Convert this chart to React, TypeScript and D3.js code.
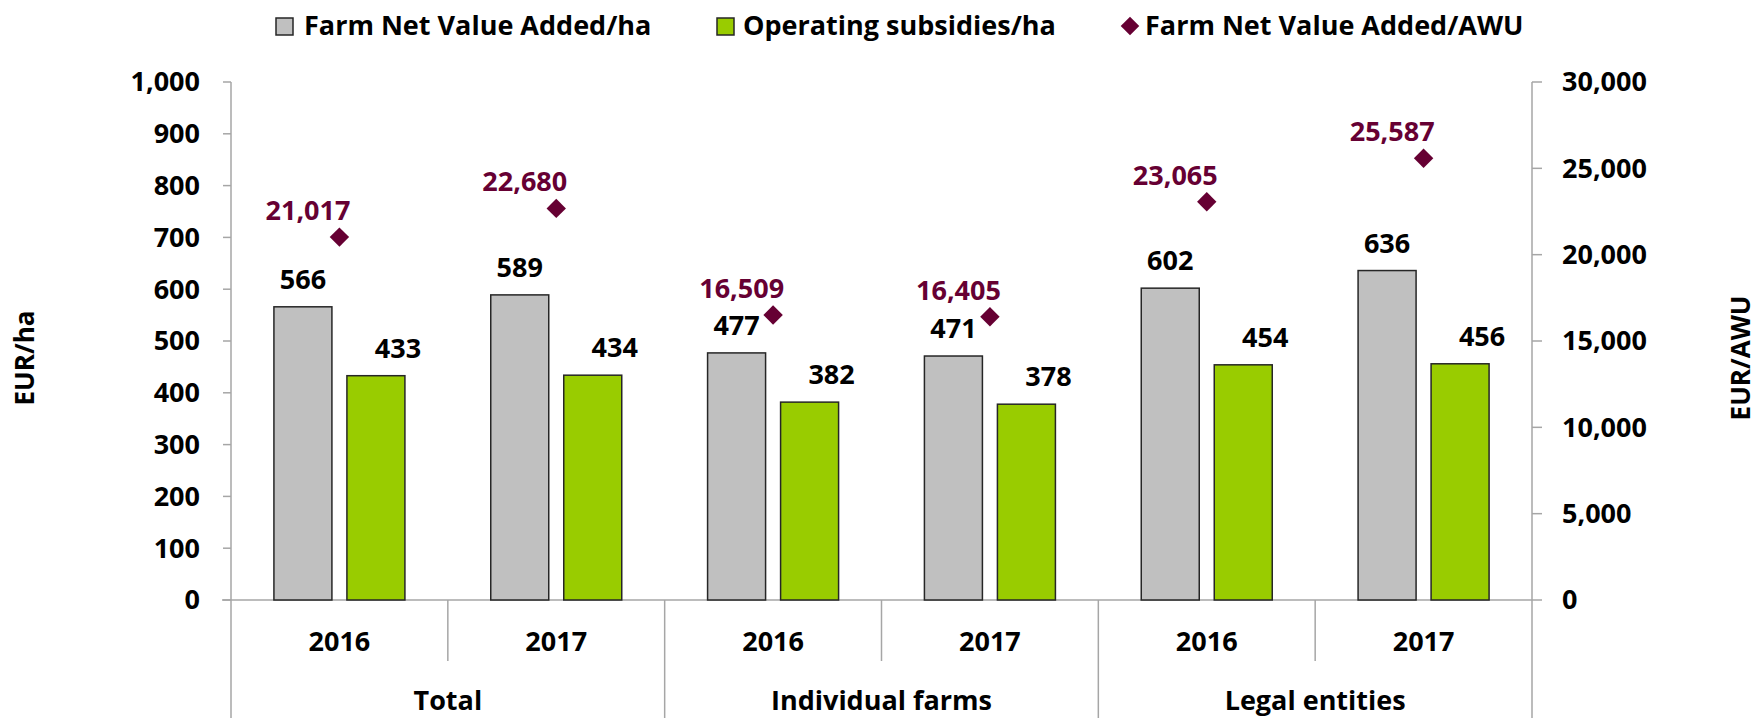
import React, { useEffect, useRef } from "react";
import * as d3 from "d3";

// chart values
const groups = ["Total", "Individual farms", "Legal entities"];
const years = ["2016", "2017"];
const fnvaPerHa = [566, 589, 477, 471, 602, 636];
const subsidiesPerHa = [433, 434, 382, 378, 454, 456];
const fnvaPerAwu = [21017, 22680, 16509, 16405, 23065, 25587];
const leftTicks = [0, 100, 200, 300, 400, 500, 600, 700, 800, 900, 1000];
const rightTicks = [0, 5000, 10000, 15000, 20000, 25000, 30000];
const legendLabels = ["Farm Net Value Added/ha", "Operating subsidies/ha", "Farm Net Value Added/AWU"];

const W = 1760;
const H = 718;
const FONT = "'Open Sans', 'DejaVu Sans', sans-serif";
const GREY = "#c0c0c0";
const GREEN = "#99cc00";
const MAROON = "#660033";
const AXIS = "#a6a6a6";

const App = () => {
  const svgRef = useRef<SVGSVGElement>(null);

  useEffect(() => {
    const svg = d3.select(svgRef.current);
    svg.selectAll("*").remove();

    const margin = { top: 82, right: 228, bottom: 118, left: 231 };
    const cats = groups.flatMap((g) => years.map((y) => `${g}|${y}`));

    const x = d3.scaleBand().domain(cats).range([margin.left, W - margin.right]);
    const y = d3.scaleLinear().domain([0, 1000]).range([H - margin.bottom, margin.top]);
    const y2 = d3.scaleLinear().domain([0, 30000]).range([H - margin.bottom, margin.top]);
    const fmt = d3.format(",");
    const base = y(0);
    const barW = 58;
    const gap = 15;

    // left axis
    const left = svg.append("g").attr("transform", `translate(${margin.left},0)`);
    left.append("line").attr("y1", y(1000)).attr("y2", base).attr("stroke", AXIS).attr("stroke-width", 1.5);
    leftTicks.forEach((t) => {
      left.append("line").attr("x1", -8).attr("x2", 0).attr("y1", y(t)).attr("y2", y(t))
        .attr("stroke", AXIS).attr("stroke-width", 1.5);
      left.append("text").attr("x", -31).attr("y", y(t)).attr("dy", "0.35em")
        .attr("text-anchor", "end").text(fmt(t));
    });

    // right axis
    const rx = W - margin.right;
    const right = svg.append("g").attr("transform", `translate(${rx},0)`);
    right.append("line").attr("y1", y2(30000)).attr("y2", H).attr("stroke", AXIS).attr("stroke-width", 1.5);
    rightTicks.forEach((t) => {
      right.append("line").attr("x1", 0).attr("x2", 10).attr("y1", y2(t)).attr("y2", y2(t))
        .attr("stroke", AXIS).attr("stroke-width", 1.5);
      right.append("text").attr("x", 30).attr("y", y2(t)).attr("dy", "0.35em")
        .attr("text-anchor", "start").text(fmt(t));
    });

    // category axis
    svg.append("line").attr("x1", margin.left - 9).attr("x2", rx).attr("y1", base).attr("y2", base)
      .attr("stroke", AXIS).attr("stroke-width", 1.5);
    svg.append("line").attr("x1", margin.left).attr("x2", margin.left).attr("y1", base).attr("y2", H)
      .attr("stroke", AXIS).attr("stroke-width", 1.5);
    cats.forEach((c, i) => {
      const x0 = x(c)!;
      const x1 = x0 + x.bandwidth();
      if (i < cats.length - 1) {
        svg.append("line").attr("x1", x1).attr("x2", x1).attr("y1", base)
          .attr("y2", i % 2 === 1 ? H : base + 61)
          .attr("stroke", AXIS).attr("stroke-width", 1.5);
      }
      svg.append("text").attr("x", x0 + x.bandwidth() / 2).attr("y", base + 51)
        .attr("text-anchor", "middle").text(c.split("|")[1]);
    });
    groups.forEach((g) => {
      const x0 = x(`${g}|${years[0]}`)!;
      svg.append("text").attr("x", x0 + x.bandwidth()).attr("y", base + 110)
        .attr("text-anchor", "middle").text(g);
    });

    // bars
    cats.forEach((c, i) => {
      const cx = x(c)! + x.bandwidth() / 2;
      const gx = cx - gap / 2 - barW;
      const sx = cx + gap / 2;
      svg.append("rect").attr("x", gx).attr("y", y(fnvaPerHa[i])).attr("width", barW)
        .attr("height", base - y(fnvaPerHa[i])).attr("fill", GREY).attr("stroke", "#262626").attr("stroke-width", 1.5);
      svg.append("rect").attr("x", sx).attr("y", y(subsidiesPerHa[i])).attr("width", barW)
        .attr("height", base - y(subsidiesPerHa[i])).attr("fill", GREEN).attr("stroke", "#262626").attr("stroke-width", 1.5);
      svg.append("text").attr("x", gx + barW / 2).attr("y", y(fnvaPerHa[i]) - 18)
        .attr("text-anchor", "middle").text(fmt(fnvaPerHa[i]));
      svg.append("text").attr("x", sx + barW / 2 + 22).attr("y", y(subsidiesPerHa[i]) - 18)
        .attr("text-anchor", "middle").text(fmt(subsidiesPerHa[i]));

      // AWU markers
      const py = y2(fnvaPerAwu[i]);
      svg.append("path").attr("d", d3.symbol(d3.symbolDiamond2, 240)())
        .attr("transform", `translate(${cx},${py})`).attr("fill", MAROON);
      svg.append("text").attr("x", cx + 11).attr("y", py - 17).attr("text-anchor", "end")
        .attr("fill", MAROON).text(fmt(fnvaPerAwu[i]));
    });

    // axis titles
    svg.append("text").attr("transform", `translate(34,358) rotate(-90)`)
      .attr("text-anchor", "middle").attr("font-size", 26).text("EUR/ha");
    svg.append("text").attr("transform", `translate(1750,358) rotate(-90)`)
      .attr("text-anchor", "middle").attr("font-size", 26).text("EUR/AWU");

    // legend
    const textX = [304, 743, 1145];
    const lg = svg.append("g").attr("font-size", 27);
    lg.append("rect").attr("x", 276).attr("y", 18).attr("width", 17).attr("height", 17)
      .attr("fill", GREY).attr("stroke", "#262626").attr("stroke-width", 1.5);
    lg.append("rect").attr("x", 717).attr("y", 18).attr("width", 17).attr("height", 17)
      .attr("fill", GREEN).attr("stroke", "#262626").attr("stroke-width", 1.5);
    lg.append("path").attr("d", d3.symbol(d3.symbolDiamond2, 220)())
      .attr("transform", `translate(1130,26)`).attr("fill", MAROON);
    legendLabels.forEach((l, i) => {
      lg.append("text").attr("x", textX[i]).attr("y", 35).text(l);
    });
  }, []);

  return (
    <svg
      ref={svgRef}
      width={W}
      height={H}
      style={{ position: "absolute", left: 0, top: 0, background: "#fff" }}
      fontFamily={FONT}
      fontWeight="bold"
      fontSize={27}
    />
  );
};

export default App;
